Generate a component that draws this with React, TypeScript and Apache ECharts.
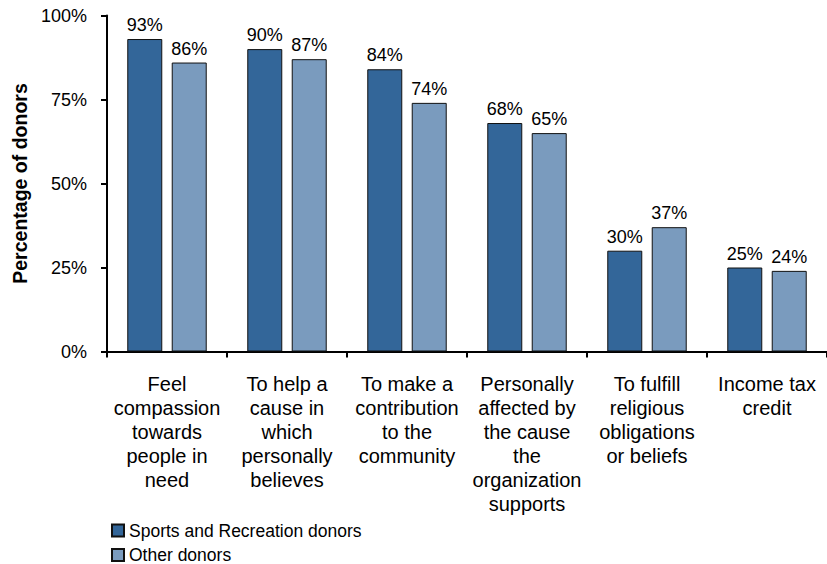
import React, { useEffect, useRef } from "react";
import * as echarts from "echarts";

const categories = [
  "Feel\ncompassion\ntowards\npeople in\nneed",
  "To help a\ncause in\nwhich\npersonally\nbelieves",
  "To make a\ncontribution\nto the\ncommunity",
  "Personally\naffected by\nthe cause\nthe\norganization\nsupports",
  "To fulfill\nreligious\nobligations\nor beliefs",
  "Income tax\ncredit",
];
const sportsDonors = [93, 90, 84, 68, 30, 25];
const otherDonors = [86, 87, 74, 65, 37, 24];
const seriesNames = ["Sports and Recreation donors", "Other donors"];
const yTicks = [0, 25, 50, 75, 100];

const FONT = '"Liberation Sans", Arial, Helvetica, sans-serif';

export default function App() {
  const ref = useRef<HTMLDivElement>(null);
  useEffect(() => {
    if (!ref.current) return;
    const chart = echarts.init(ref.current, null, { renderer: "svg" });
    const labelCfg = {
      show: true,
      position: "top",
      distance: 5,
      formatter: (p: any) => p.value + "%",
      color: "#000",
      fontSize: 18,
      fontFamily: FONT,
    };
    const legendBase = {
      orient: "vertical",
      left: 111,
      itemWidth: 12,
      itemHeight: 12,
      icon: "rect",
      padding: 0,
      textStyle: { fontSize: 17.5, color: "#000", fontFamily: FONT, lineHeight: 20 },
    };
    chart.setOption({
      animation: false,
      textStyle: { fontFamily: FONT },
      grid: { left: 107, right: -6, top: 15.5, bottom: 212.5, containLabel: false },
      legend: [
        { ...legendBase, top: 520.5, data: [seriesNames[0]] },
        { ...legendBase, top: 545, data: [seriesNames[1]] },
      ],
      xAxis: {
        type: "category",
        data: categories,
        axisLine: { lineStyle: { color: "#000", width: 2 } },
        axisTick: { show: true, length: 6, lineStyle: { color: "#000", width: 2 } },
        axisLabel: {
          interval: 0,
          margin: 20,
          color: "#000",
          fontSize: 20,
          lineHeight: 24,
          fontFamily: FONT,
          align: "center",
        },
      },
      yAxis: {
        type: "value",
        min: yTicks[0],
        max: yTicks[yTicks.length - 1],
        interval: 25,
        name: "Percentage of donors",
        nameLocation: "middle",
        nameGap: 71,
        nameTextStyle: { fontSize: 19.5, fontWeight: "bold", color: "#000", fontFamily: FONT },
        splitLine: { show: false },
        axisLine: { show: true, lineStyle: { color: "#000", width: 2 } },
        axisTick: { show: true, length: 6, lineStyle: { color: "#000", width: 2 } },
        axisLabel: {
          margin: 20,
          color: "#000",
          fontSize: 18,
          fontFamily: FONT,
          formatter: (v: number) => v + "%",
        },
      },
      series: [
        {
          name: seriesNames[0],
          type: "bar",
          data: sportsDonors,
          barWidth: 35,
          barGap: "27%",
          itemStyle: { color: "#336699", borderColor: "#111", borderWidth: 1 },
          label: labelCfg,
        },
        {
          name: seriesNames[1],
          type: "bar",
          data: otherDonors,
          barWidth: 35,
          barGap: "27%",
          itemStyle: { color: "#7a9bbe", borderColor: "#111", borderWidth: 1 },
          label: labelCfg,
        },
      ],
    });
    return () => chart.dispose();
  }, []);
  return (
    <div
      ref={ref}
      style={{ position: "absolute", left: 0, top: 0, width: 827, height: 564, background: "#fff" }}
    />
  );
}
